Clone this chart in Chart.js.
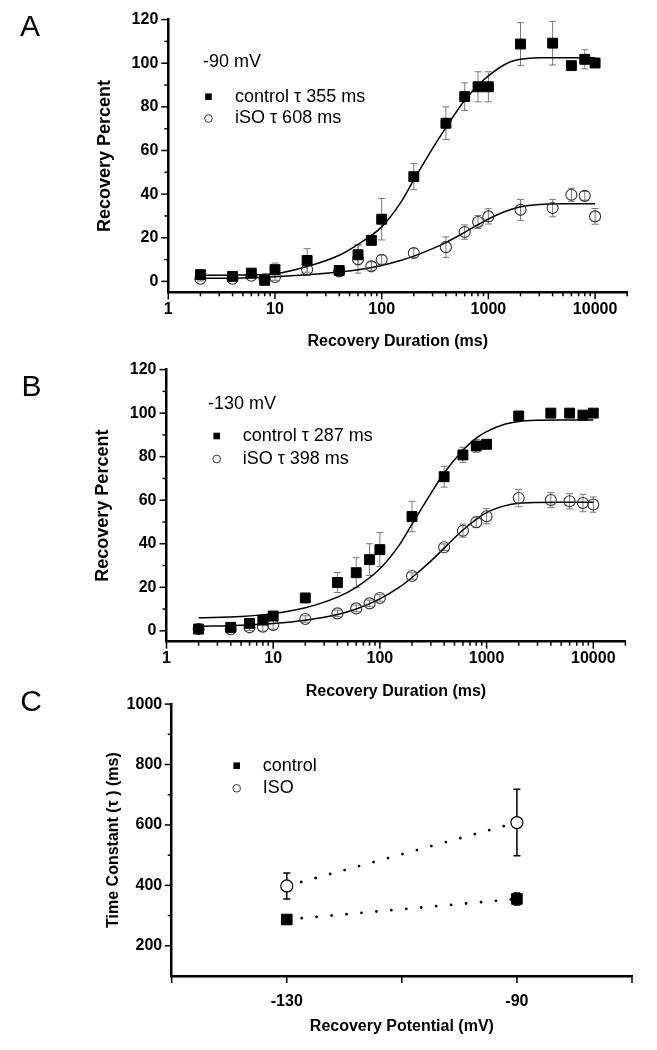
<!DOCTYPE html>
<html>
<head>
<meta charset="utf-8">
<script src="https://cdn.jsdelivr.net/npm/chart.js@4.4.1/dist/chart.umd.min.js"></script>
<style>
  html, body { margin: 0; padding: 0; background: #fff; }
  body { width: 657px; height: 1050px; position: relative; overflow: hidden; }
  .panel { position: absolute; left: 0; width: 657px; }
  #panel-a { top: 0; height: 360px; }
  #panel-b { top: 350px; height: 360px; }
  #panel-c { top: 685px; height: 365px; }
</style>
</head>
<body>
<div class="panel" id="panel-a"><canvas id="chart-a"></canvas></div>
<div class="panel" id="panel-b"><canvas id="chart-b"></canvas></div>
<div class="panel" id="panel-c"><canvas id="chart-c"></canvas></div>
<script>
// ---- data ----
const durations = [2, 4, 6, 8, 10, 20, 40, 60, 80, 100, 200, 400, 600, 800, 1000, 2000, 4000, 6000, 8000, 10000];

// A: -90 mV
const ctlA = [3.1, 2.3, 3.8, 0.5, 5.4, 9.6, 5.0, 12.2, 18.8, 28.5, 48.0, 72.5, 84.7, 89.2, 89.2, 108.8, 109.2, 98.9, 101.8, 100.1];
const ctlAErr = [1, 1, 1, 1, 3, 5.4, 1, 4.6, 2, 9.5, 6, 7.5, 6.3, 6.9, 6.9, 9.8, 10, 1.5, 4.4, 1];
const isoA = [1.2, 1.2, 2.6, 1.0, 2.0, 5.4, 4.6, 10.2, 6.9, 9.9, 13.0, 15.7, 22.6, 27.2, 29.8, 32.8, 33.6, 39.7, 39.2, 29.8];
const isoAErr = [1, 1, 1, 1, 1.5, 2.7, 1, 6.4, 2, 2, 2, 4.7, 3.3, 3, 3.5, 4.8, 4, 3, 2, 3.6];

// B: -130 mV
const ctlB = [0.8, 1.6, 3.4, 4.9, 6.8, 15.1, 22.2, 26.7, 32.7, 37.3, 52.5, 70.8, 80.8, 84.9, 85.7, 98.7, 100.0, 100.0, 99.1, 100.0];
const ctlBErr = [1, 1, 1, 1, 1.5, 1.5, 4.6, 6.9, 7.3, 7.8, 7, 4.8, 3.5, 3, 2, 1.5, 1, 1, 1, 1];
const isoB = [0.8, 0.7, 1.6, 1.9, 2.7, 5.4, 8.0, 10.3, 12.6, 15.1, 25.2, 38.4, 46.0, 49.9, 52.6, 61.0, 60.1, 59.5, 58.7, 58.0];
const isoBErr = [1.5, 1.5, 1.5, 2, 2, 1.5, 1.5, 1.5, 1.5, 1.5, 1.5, 1.5, 3, 2.5, 3.5, 4, 3.5, 3.5, 4, 3.5];

// fitted curves
const fitDurations = [2, 5, 10, 20, 40, 60, 100, 150, 200, 300, 400, 600, 800, 1000, 1500, 2000, 3000, 5000, 10000];
const ctlAFit = [2.8, 2.9, 3.5, 6.8, 12, 17, 25, 36, 46.5, 61, 70.5, 83, 89.8, 94.2, 100, 101.8, 102.5, 102.5, 102.5];
const isoAFit = [1.4, 1.6, 2.1, 3.0, 4.3, 5.3, 7.3, 9.6, 11.6, 15, 17.8, 22.5, 26, 28.6, 32.4, 34.2, 35.3, 35.6, 35.6];
const ctlBFit = [6.0, 6.6, 7.9, 10.6, 15.5, 20, 28.5, 39, 49, 63, 72.5, 83, 88.5, 91.5, 95, 96.2, 96.7, 96.8, 96.8];
const isoBFit = [2.0, 2.6, 3.4, 4.9, 7.5, 10, 14.7, 19.8, 24.5, 32, 38, 46.3, 51.2, 54.3, 57.5, 58.6, 59, 59.1, 59.1];

// C: time constants
const potentials = [-130, -90];
const tauCtl = [287, 355];
const tauCtlErr = [12, 20];
const tauIso = [398, 608];
const tauIsoErr = [43, 110];

// ticks
const pctLabels = [0, 20, 40, 60, 80, 100, 120];
const pctMinor = [10, 30, 50, 70, 90, 110];
const durLabels = [1, 10, 100, 1000, 10000];
const durMinor = [2, 3, 4, 5, 6, 7, 8, 9, 20, 30, 40, 50, 60, 70, 80, 90, 200, 300, 400, 500, 600, 700, 800, 900,
  2000, 3000, 4000, 5000, 6000, 7000, 8000, 9000, 20000];
const tauLabels = [200, 400, 600, 800, 1000];
const tauMinor = [300, 500, 700, 900];
const potLabels = [-130, -90];
const potTicks = [-150, -130, -110, -90, -70];

// ---- helpers ----
const FONT = '"Liberation Sans", Arial, Helvetica, sans-serif';
Chart.defaults.font.family = FONT;
Chart.defaults.color = "#000";
Chart.defaults.animation = false;

const pts = (xs, ys) => xs.map((x, i) => ({ x, y: ys[i] }));

// outward tick marks, long at labelled values, short in between
const tickMarks = (spec) => ({
  id: "tickMarks",
  afterDraw(chart) {
    const { ctx, chartArea } = chart;
    ctx.save();
    ctx.strokeStyle = "#000";
    ctx.lineWidth = 1.5;
    Object.entries(spec).forEach(([id, set]) => {
      const scale = chart.scales[id];
      [[set.major, 7], [set.minor || [], 4]].forEach(([vals, len]) => {
        vals.forEach((v) => {
          const p = scale.getPixelForValue(v);
          ctx.beginPath();
          if (scale.isHorizontal()) {
            ctx.moveTo(p, chartArea.bottom);
            ctx.lineTo(p, chartArea.bottom + len);
          } else {
            ctx.moveTo(chartArea.left, p);
            ctx.lineTo(chartArea.left - len, p);
          }
          ctx.stroke();
        });
      });
    });
    ctx.restore();
  },
});

// vertical error bars with caps, from dataset.errors
const errorBars = {
  id: "errorBars",
  beforeDatasetsDraw(chart) {
    const { ctx } = chart;
    const y = chart.scales.y;
    chart.data.datasets.forEach((ds, i) => {
      if (!ds.errors) return;
      const meta = chart.getDatasetMeta(i);
      ctx.save();
      ctx.strokeStyle = ds.errorColor || "#777";
      ctx.lineWidth = ds.errorWidth || 1;
      const cap = ds.errorCap || 3.5;
      meta.data.forEach((pt, j) => {
        const v = ds.data[j].y;
        const e = ds.errors[j];
        const top = y.getPixelForValue(v + e);
        const bot = y.getPixelForValue(v - e);
        ctx.beginPath();
        ctx.moveTo(pt.x, top);
        ctx.lineTo(pt.x, bot);
        ctx.moveTo(pt.x - cap, top);
        ctx.lineTo(pt.x + cap, top);
        ctx.moveTo(pt.x - cap, bot);
        ctx.lineTo(pt.x + cap, bot);
        ctx.stroke();
      });
      ctx.restore();
    });
  },
};

// panel letter, condition label and the in-plot legend
const panelText = (cfg) => ({
  id: "panelText",
  afterDraw(chart) {
    const { ctx } = chart;
    ctx.save();
    ctx.fillStyle = "#000";
    ctx.textBaseline = "middle";
    ctx.textAlign = "center";
    ctx.font = `30px ${FONT}`;
    ctx.fillText(cfg.letter, cfg.letterX, cfg.letterY);
    ctx.textAlign = "left";
    ctx.font = `18px ${FONT}`;
    if (cfg.title) ctx.fillText(cfg.title, cfg.titleX, cfg.titleY);
    cfg.items.forEach((it) => {
      if (it.style === "rect") {
        ctx.fillRect(cfg.markX - 3.3, it.y - 3.3, 6.6, 6.6);
      } else {
        ctx.beginPath();
        ctx.lineWidth = 1;
        ctx.strokeStyle = "#333";
        ctx.arc(cfg.markX, it.y, 3.8, 0, Math.PI * 2);
        ctx.stroke();
      }
      ctx.fillText(it.text, cfg.textX, it.y);
    });
    ctx.restore();
  },
});

const bold = (size) => ({ size, weight: "bold" });

function recoveryChart(id, p) {
  new Chart(document.getElementById(id), {
    type: "scatter",
    data: {
      datasets: [
        {
          data: pts(durations, p.ctl), errors: p.ctlErr, errorColor: "#7a7a7a",
          pointStyle: "rect", pointRadius: 7, pointBackgroundColor: "#000",
          pointBorderColor: "#000", pointBorderWidth: 1,
        },
        {
          data: pts(durations, p.iso), errors: p.isoErr, errorColor: "#7a7a7a",
          pointStyle: "circle", pointRadius: 5.5, pointBackgroundColor: "rgba(0,0,0,0)",
          pointBorderColor: "#333", pointBorderWidth: 1.1,
        },
        {
          type: "line", data: pts(fitDurations, p.ctlFit), borderColor: "#000", borderWidth: 1.5,
          pointRadius: 0, cubicInterpolationMode: "monotone", fill: false,
        },
        {
          type: "line", data: pts(fitDurations, p.isoFit), borderColor: "#000", borderWidth: 1.5,
          pointRadius: 0, cubicInterpolationMode: "monotone", fill: false,
        },
      ],
    },
    options: {
      responsive: true,
      maintainAspectRatio: false,
      events: [],
      layout: { padding: p.pad },
      scales: {
        x: {
          type: "logarithmic", min: 1, max: 20000, bounds: "data",
          afterBuildTicks: (s) => { s.ticks = durLabels.map((v) => ({ value: v })); },
          afterFit: (s) => { s.height = 60; },
          grid: { display: false, drawTicks: false },
          border: { display: true, color: "#000", width: 2.5 },
          ticks: { padding: p.xTickPad, font: bold(16), autoSkip: false, maxRotation: 0, callback: (v) => String(v) },
          title: { display: true, text: "Recovery Duration (ms)", font: bold(16), padding: { top: 0, bottom: p.xTitlePad } },
        },
        y: {
          min: -5, max: 120, bounds: "data",
          afterBuildTicks: (s) => { s.ticks = pctLabels.map((v) => ({ value: v })); },
          afterFit: (s) => { s.width = p.yWidth; },
          grid: { display: false, drawTicks: false },
          border: { display: true, color: "#000", width: 2.5 },
          ticks: { padding: 10, font: bold(16), autoSkip: false, callback: (v) => String(v) },
          title: { display: true, text: "Recovery Percent", font: bold(18), padding: { top: p.yTitlePad, bottom: 0 } },
        },
      },
      plugins: { legend: { display: false }, tooltip: { enabled: false } },
    },
    plugins: [
      errorBars,
      tickMarks({ x: { major: durLabels, minor: durMinor }, y: { major: pctLabels, minor: pctMinor } }),
      panelText(p.text),
    ],
  });
}

recoveryChart("chart-a", {
  ctl: ctlA, ctlErr: ctlAErr, iso: isoA, isoErr: isoAErr, ctlFit: ctlAFit, isoFit: isoAFit,
  pad: { top: 19.3, left: 0, right: 29.8, bottom: 7.7 },
  yWidth: 168.3, xTickPad: 8, xTitlePad: 1, yTitlePad: 94,
  text: {
    letter: "A", letterX: 30, letterY: 28, title: "-90 mV", titleX: 203, titleY: 62,
    markX: 208.5, textX: 235,
    items: [
      { style: "rect", y: 96.7, text: "control \u03c4 355 ms" },
      { style: "circle", y: 118.5, text: "iSO \u03c4 608 ms" },
    ],
  },
});

recoveryChart("chart-b", {
  ctl: ctlB, ctlErr: ctlBErr, iso: isoB, isoErr: isoBErr, ctlFit: ctlBFit, isoFit: isoBFit,
  pad: { top: 18.3, left: 0, right: 31.6, bottom: 8.3 },
  yWidth: 166.5, xTickPad: 7, xTitlePad: 0.4, yTitlePad: 92,
  text: {
    letter: "B", letterX: 31.5, letterY: 38, title: "-130 mV", titleX: 208, titleY: 54.3,
    markX: 216.7, textX: 242.7,
    items: [
      { style: "rect", y: 86, text: "control \u03c4 287 ms" },
      { style: "circle", y: 109, text: "iSO \u03c4 398 ms" },
    ],
  },
});

new Chart(document.getElementById("chart-c"), {
  type: "scatter",
  data: {
    datasets: [
      {
        data: pts(potentials, tauCtl), errors: tauCtlErr, errorColor: "#000", errorWidth: 1.5,
        pointStyle: "rect", pointRadius: 7.5, pointBackgroundColor: "#000",
        pointBorderColor: "#000", pointBorderWidth: 1,
      },
      {
        data: pts(potentials, tauIso), errors: tauIsoErr, errorColor: "#000", errorWidth: 1.5,
        pointStyle: "circle", pointRadius: 6, pointBackgroundColor: "#fff",
        pointBorderColor: "#000", pointBorderWidth: 1.2,
      },
      {
        type: "line", data: pts(potentials, tauCtl), borderColor: "#000", borderWidth: 2.8,
        borderDash: [0, 15], borderCapStyle: "round", pointRadius: 0, fill: false,
      },
      {
        type: "line", data: pts(potentials, tauIso), borderColor: "#000", borderWidth: 2.8,
        borderDash: [0, 15], borderCapStyle: "round", pointRadius: 0, fill: false,
      },
    ],
  },
  options: {
    responsive: true,
    maintainAspectRatio: false,
    events: [],
    layout: { padding: { top: 17.5, left: 0, right: 25, bottom: 12 } },
    scales: {
      x: {
        type: "linear", min: -150, max: -70, bounds: "data",
        afterBuildTicks: (s) => { s.ticks = potLabels.map((v) => ({ value: v })); },
        afterFit: (s) => { s.height = 62; },
        grid: { display: false, drawTicks: false },
        border: { display: true, color: "#000", width: 2.5 },
        ticks: { padding: 16, font: bold(16), autoSkip: false, maxRotation: 0, callback: (v) => String(v) },
        title: { display: true, text: "Recovery Potential (mV)", font: bold(16), padding: { top: 0, bottom: 1.7 } },
      },
      y: {
        min: 100, max: 1000, bounds: "data",
        afterBuildTicks: (s) => { s.ticks = tauLabels.map((v) => ({ value: v })); },
        afterFit: (s) => { s.width = 171.7; },
        grid: { display: false, drawTicks: false },
        border: { display: true, color: "#000", width: 2.5 },
        ticks: { padding: 9.5, font: bold(16), autoSkip: false, callback: (v) => String(v) },
        title: { display: true, text: "Time Constant (\u03c4 ) (ms)", font: bold(16), padding: { top: 103.7, bottom: 0 } },
      },
    },
    plugins: { legend: { display: false }, tooltip: { enabled: false } },
  },
  plugins: [
    errorBars,
    tickMarks({ x: { major: potTicks }, y: { major: tauLabels, minor: tauMinor } }),
    panelText({
      letter: "C", letterX: 31, letterY: 18, markX: 236.7, textX: 262.7,
      items: [
        { style: "rect", y: 80.7, text: "control" },
        { style: "circle", y: 103.3, text: "ISO" },
      ],
    }),
  ],
});
</script>
</body>
</html>
